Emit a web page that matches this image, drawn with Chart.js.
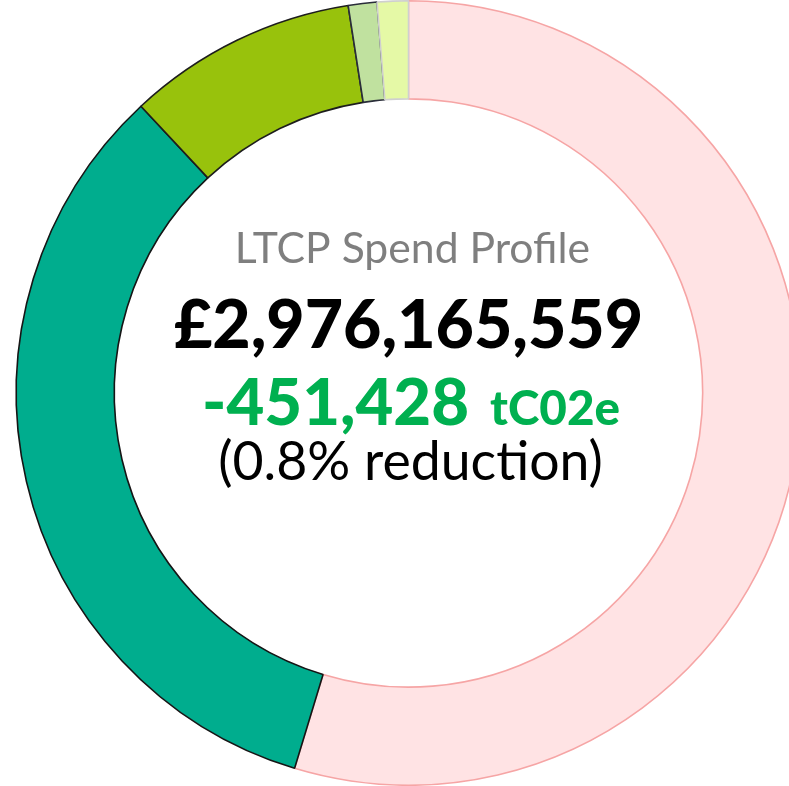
<!DOCTYPE html>
<html>
<head>
<meta charset="utf-8">
<script src="https://cdn.jsdelivr.net/npm/chart.js@4"></script>
<style>
  html, body { margin: 0; padding: 0; background: #fff; overflow: hidden; }
  #wrap { width: 817px; height: 786px; }
</style>
</head>
<body>
<div id="wrap"><canvas id="spendChart"></canvas></div>
<script>
// spend split, £m
var categories = ['Segment 1', 'Segment 2', 'Segment 3', 'Segment 4', 'Segment 5'];
var spend = [1627.7, 992.9, 282.4, 35.1, 38.1];
var fillColours = ['#ffe3e4', '#00ad8e', '#98c20c', '#c0e19f', '#e5f9a6'];
var edgeColours = ['#f6a5a5', '#151515', '#1d1d1d', '#2a2d3a', '#cfcfcf'];

var titleText = 'LTCP Spend Profile';
var totalText = '£2,976,165,559';
var carbonText = '-451,428';
var carbonUnit = 'tC02e';
var reductionText = '(0.8% reduction)';

function fitFont(ctx, text, weight, family, width) {
  ctx.font = weight + ' 100px ' + family;
  var size = 100 * width / ctx.measureText(text).width;
  return weight + ' ' + size.toFixed(1) + 'px ' + family;
}

var centreText = {
  id: 'centreText',
  afterDraw: function (chart) {
    var ctx = chart.ctx;
    var area = chart.chartArea;
    var cx = (area.left + area.right) / 2;
    var fam = 'Lato, "DejaVu Sans", sans-serif';
    ctx.save();
    ctx.textBaseline = 'alphabetic';
    ctx.textAlign = 'center';

    ctx.fillStyle = '#7f7f7f';
    ctx.font = fitFont(ctx, titleText, 'normal', fam, 355);
    ctx.fillText(titleText, cx + 4, 263);

    ctx.fillStyle = '#000000';
    ctx.font = fitFont(ctx, totalText, '900', fam, 469);
    ctx.fillText(totalText, cx, 348);

    // green line, two sizes
    ctx.textAlign = 'left';
    ctx.fillStyle = '#00b050';
    var bigFont = fitFont(ctx, carbonText, '900', fam, 267);
    var smallFont = fitFont(ctx, carbonUnit, '900', fam, 130);
    ctx.font = bigFont;
    ctx.fillText(carbonText, 202, 425);
    ctx.font = smallFont;
    ctx.fillText(carbonUnit, 490, 425);

    ctx.textAlign = 'center';
    ctx.fillStyle = '#000000';
    ctx.font = fitFont(ctx, reductionText, 'normal', fam, 385);
    ctx.fillText(reductionText, cx + 2, 480);
    ctx.restore();
  }
};

var ctx = document.getElementById('spendChart').getContext('2d');
var myChart = new Chart(ctx, {
  type: 'doughnut',
  data: {
    labels: categories,
    datasets: [{
      data: spend,
      backgroundColor: fillColours,
      borderColor: edgeColours,
      borderWidth: 1.6
    }]
  },
  options: {
    responsive: true,
    maintainAspectRatio: false,
    animation: false,
    cutout: '75%',
    radius: '100%',
    layout: { padding: 0 },
    plugins: {
      legend: { display: false },
      title: { display: false },
      tooltip: { enabled: false }
    }
  },
  plugins: [centreText]
});
</script>
</body>
</html>
